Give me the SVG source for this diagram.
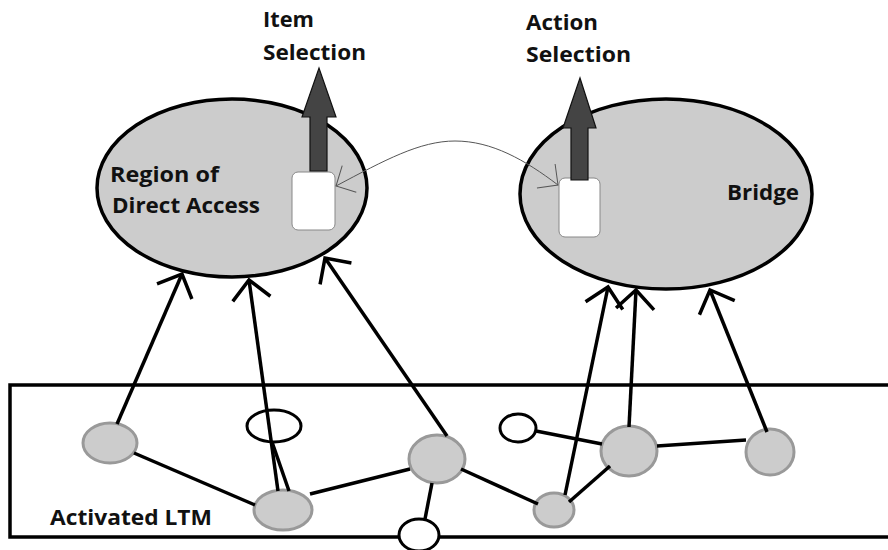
<svg xmlns="http://www.w3.org/2000/svg" width="888" height="550" viewBox="0 0 888 550">
  <style>
    .lbl { font-family: "Open Sans", "Liberation Sans", sans-serif; font-weight: bold; font-size: 21px; fill: #111; }
    .region { fill: #cccccc; stroke: #000; stroke-width: 3.5; }
    .box { fill: #fff; stroke: #888; stroke-width: 1; }
    .block { fill: #444; stroke: #111; stroke-width: 1.2; }
    .item { fill: #cccccc; stroke: #999; stroke-width: 3; }
    .hollow { fill: #fff; stroke: #000; stroke-width: 3; }
    .link { fill: none; stroke: #000; stroke-width: 3.5; }
    .arrow { fill: none; stroke: #000; stroke-width: 3.5; marker-end: url(#vhead); }
    .thin { fill: none; stroke: #555; stroke-width: 1; marker-start: url(#thinhead); marker-end: url(#thinhead); }
  </style>
  <defs>
    <marker id="vhead" markerUnits="userSpaceOnUse" viewBox="-24 -24 28 48" markerWidth="28" markerHeight="48" refX="0" refY="0" orient="auto" overflow="visible">
      <path d="M-19,-19 L0,0 L-19,19" fill="none" stroke="#000" stroke-width="3.5"/>
    </marker>
    <marker id="thinhead" markerUnits="userSpaceOnUse" viewBox="-20 -20 24 40" markerWidth="24" markerHeight="40" refX="0" refY="0" orient="auto-start-reverse" overflow="visible">
      <path d="M-15,-15 L0,0 L-15,15" fill="none" stroke="#555" stroke-width="1"/>
    </marker>
  </defs>

  <rect width="888" height="550" fill="#fff"/>

  <!-- activated long-term memory band -->
  <g id="ltm">
    <rect x="10" y="385" width="890" height="152" fill="none" stroke="#000" stroke-width="3.5"/>
    <text class="lbl" x="50" y="525" textLength="162" lengthAdjust="spacingAndGlyphs">Activated LTM</text>
  </g>

  <!-- region of direct access -->
  <g id="rda">
    <ellipse class="region" cx="232" cy="188" rx="135" ry="89"/>
    <text class="lbl" x="110" y="182" textLength="109" lengthAdjust="spacingAndGlyphs">Region of</text>
    <text class="lbl" x="112" y="213" textLength="148" lengthAdjust="spacingAndGlyphs">Direct Access</text>
    <rect class="box" x="292" y="172" width="43" height="58" rx="6"/>
    <polygon class="block" points="310,171 310,117 302,117 319,68 336,117 327,117 327,171"/>
    <text class="lbl" x="263" y="27" textLength="51" lengthAdjust="spacingAndGlyphs">Item</text>
    <text class="lbl" x="263" y="60" textLength="103" lengthAdjust="spacingAndGlyphs">Selection</text>
  </g>

  <!-- bridge -->
  <g id="bridge">
    <ellipse class="region" cx="666" cy="194" rx="146" ry="95"/>
    <text class="lbl" x="727" y="200" textLength="72" lengthAdjust="spacingAndGlyphs">Bridge</text>
    <rect class="box" x="559" y="178" width="41" height="59" rx="6"/>
    <polygon class="block" points="571,180 571,128 563,128 580,78 596,128 588,128 588,180"/>
    <text class="lbl" x="526" y="30" textLength="72" lengthAdjust="spacingAndGlyphs">Action</text>
    <text class="lbl" x="526" y="62" textLength="105" lengthAdjust="spacingAndGlyphs">Selection</text>
  </g>

  <!-- activated items -->
  <g id="n1"><ellipse class="item" cx="110" cy="443" rx="27" ry="20"/></g>
  <g id="n2"><ellipse class="item" cx="283" cy="510" rx="29" ry="20"/></g>
  <g id="n3"><ellipse class="item" cx="437" cy="459" rx="28" ry="24"/></g>
  <g id="n4"><ellipse class="item" cx="554" cy="510" rx="20" ry="17"/></g>
  <g id="n5"><ellipse class="item" cx="629" cy="451" rx="28" ry="25"/></g>
  <g id="n6"><ellipse class="item" cx="770" cy="452" rx="24" ry="23"/></g>
  <g id="w1"><ellipse class="hollow" cx="274" cy="426" rx="27" ry="16"/></g>
  <g id="w2"><ellipse class="hollow" cx="518" cy="428" rx="18" ry="14"/></g>
  <g id="w3"><ellipse class="hollow" cx="419" cy="535" rx="20" ry="16"/></g>

  <!-- connectors -->
  <g id="connectors">
    <line class="link" x1="134" y1="453" x2="255" y2="505"/>
    <line class="link" x1="310" y1="494" x2="410" y2="469"/>
    <line class="link" x1="432" y1="483" x2="425" y2="519"/>
    <line class="link" x1="461" y1="469" x2="538" y2="504"/>
    <line class="link" x1="569" y1="502" x2="610" y2="466"/>
    <line class="link" x1="536" y1="431" x2="602" y2="444"/>
    <line class="link" x1="657" y1="446" x2="746" y2="440"/>
    <line class="link" x1="289" y1="491" x2="272" y2="442"/>
    <line class="arrow" x1="117" y1="424" x2="182" y2="274"/>
    <line class="arrow" x1="278" y1="491" x2="249" y2="280"/>
    <line class="arrow" x1="447" y1="436" x2="325" y2="258"/>
    <line class="arrow" x1="565" y1="495" x2="608" y2="287"/>
    <line class="arrow" x1="629" y1="427" x2="636" y2="290"/>
    <line class="arrow" x1="767" y1="432" x2="710" y2="290"/>
    <path class="thin" d="M336,186 C385,160 420,141 455,141 C492,141 525,160 558,185"/>
  </g>
</svg>
